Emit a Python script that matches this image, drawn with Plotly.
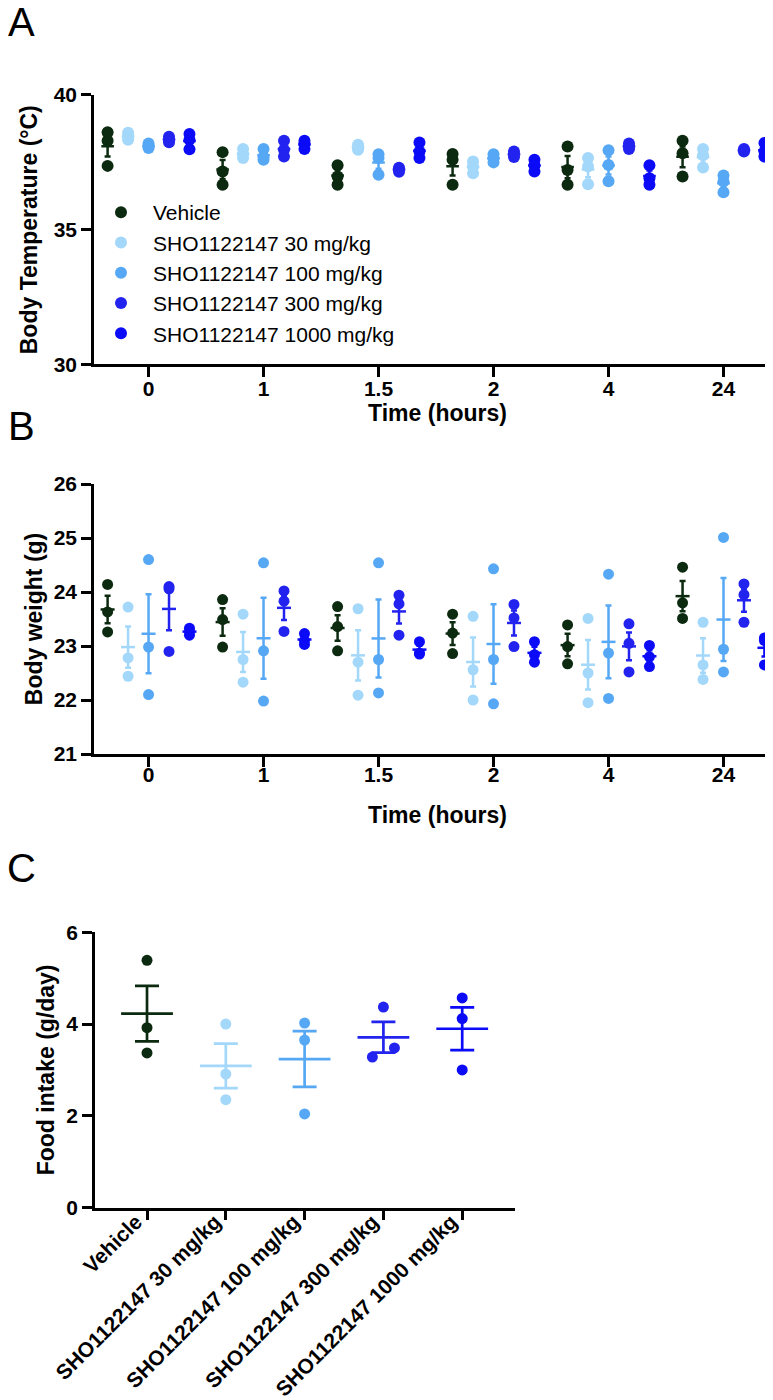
import numpy as np
import plotly.graph_objects as go

time_labels = ["0", "1", "1.5", "2", "4", "24"]
groups = ["Vehicle", "SHO1122147 30 mg/kg", "SHO1122147 100 mg/kg",
          "SHO1122147 300 mg/kg", "SHO1122147 1000 mg/kg"]
colors = ["#0b2a0f", "#a3d8fa", "#56a8f5", "#2323f0", "#0b0bf8"]

# Body temperature (°C): 3 animals per group, one list per time point
temp_vehicle = [[38.62, 38.30, 37.37], [37.88, 37.16, 36.67], [37.39, 36.98, 36.67],
                [37.81, 37.60, 36.67], [38.09, 37.22, 36.67], [38.30, 37.84, 36.98]]
temp_30 = [[38.60, 38.45, 38.34], [38.00, 37.80, 37.66], [38.15, 38.05, 37.97],
           [37.53, 37.35, 37.10], [37.66, 37.35, 36.69], [38.00, 37.76, 37.31]]
temp_100 = [[38.20, 38.10, 38.03], [38.00, 37.70, 37.60], [37.80, 37.66, 37.04],
            [37.80, 37.65, 37.50], [37.95, 37.40, 36.80], [37.01, 36.79, 36.39]]
temp_300 = [[38.45, 38.35, 38.25], [38.30, 37.97, 37.72], [37.30, 37.25, 37.15],
            [37.90, 37.80, 37.70], [38.20, 38.10, 38.00], [38.00, 37.95, 37.90]]
temp_1000 = [[38.55, 38.34, 37.99], [38.30, 38.20, 38.00], [38.24, 37.90, 37.66],
             [37.60, 37.39, 37.16], [37.39, 36.91, 36.67], [38.22, 37.90, 37.72]]

# Body weight (g)
weight_vehicle = [[24.14, 23.63, 23.26], [23.86, 23.49, 22.98], [23.73, 23.36, 22.91],
                  [23.59, 23.24, 22.86], [23.39, 22.99, 22.67], [24.46, 23.80, 23.51]]
weight_30 = [[23.72, 22.78, 22.44], [23.59, 22.75, 22.33], [23.69, 22.70, 22.09],
             [23.55, 22.56, 22.00], [23.51, 22.50, 21.95], [23.44, 22.65, 22.38]]
weight_100 = [[24.60, 22.98, 22.10], [24.54, 22.91, 21.98], [24.54, 22.75, 22.13],
              [24.43, 22.75, 21.93], [24.33, 22.87, 22.03], [25.01, 22.94, 22.52]]
weight_300 = [[24.10, 24.06, 22.90], [24.02, 23.83, 23.27], [23.94, 23.78, 23.20],
              [23.77, 23.52, 22.99], [23.41, 23.05, 22.52], [24.15, 23.95, 23.44]]
weight_1000 = [[23.33, 23.27, 23.20], [23.23, 23.10, 23.03], [23.08, 22.87, 22.85],
               [23.08, 22.84, 22.70], [23.01, 22.80, 22.62], [23.15, 23.10, 22.65]]

# Food intake (g/day)
food_vehicle = [5.39, 3.92, 3.37]
food_30 = [4.00, 2.91, 2.35]
food_100 = [4.02, 3.65, 2.04]
food_300 = [4.37, 3.48, 3.28]
food_1000 = [4.57, 4.12, 3.00]

temp_data = [temp_vehicle, temp_30, temp_100, temp_300, temp_1000]
weight_data = [weight_vehicle, weight_30, weight_100, weight_300, weight_1000]
food_data = [food_vehicle, food_30, food_100, food_300, food_1000]

FONT = "Liberation Sans, Arial, sans-serif"
group_offsets = [-0.356, -0.178, 0.0, 0.178, 0.356]


def sem(vals):
    return float(np.std(vals, ddof=1) / np.sqrt(len(vals)))


def spread(vals, thr, step):
    """Push apart points that would overlap (like a scatter dot plot)."""
    order = np.argsort(vals)
    offs = [0.0] * len(vals)
    for a, b in zip(order[:-1], order[1:]):
        if abs(vals[b] - vals[a]) < thr:
            offs[a] = -step
            offs[b] = step
    return offs


fig = go.Figure()


def add_time_panel(data, xa, ya, msize, mean_size, cap, showlegend):
    for k, name in enumerate(groups):
        xs, ys = [], []
        for i, vals in enumerate(data[k]):
            xs += [i + group_offsets[k]] * len(vals)
            ys += vals
        fig.add_trace(go.Scatter(
            x=xs, y=ys, mode="markers", name=name, legendgroup=name,
            marker=dict(size=msize, color=colors[k]),
            showlegend=showlegend, xaxis=xa, yaxis=ya, hoverinfo="skip"
        ))
        fig.add_trace(go.Scatter(
            x=[i + group_offsets[k] for i in range(len(time_labels))],
            y=[float(np.mean(v)) for v in data[k]],
            mode="markers", showlegend=False, xaxis=xa, yaxis=ya,
            marker=dict(symbol="line-ew", size=mean_size, color=colors[k],
                        line=dict(width=2.5, color=colors[k])),
            error_y=dict(type="data", array=[sem(v) for v in data[k]],
                         color=colors[k], thickness=2.5, width=cap),
            hoverinfo="skip"
        ))


add_time_panel(temp_data, "x", "y", 12, 9, 3, True)
add_time_panel(weight_data, "x2", "y2", 11, 10, 3, False)

# panel C
for k, name in enumerate(groups):
    offs = spread(food_data[k], 0.25, 0.14)
    fig.add_trace(go.Scatter(
        x=[k + o for o in offs], y=food_data[k], mode="markers",
        marker=dict(size=11, color=colors[k]), showlegend=False,
        xaxis="x3", yaxis="y3", hoverinfo="skip"
    ))
    fig.add_trace(go.Scatter(
        x=[k], y=[float(np.mean(food_data[k]))], mode="markers",
        showlegend=False, xaxis="x3", yaxis="y3",
        marker=dict(symbol="line-ew", size=37, color=colors[k],
                    line=dict(width=2.7, color=colors[k])),
        error_y=dict(type="data", array=[sem(food_data[k])], color=colors[k],
                     thickness=2.7, width=12),
        hoverinfo="skip"
    ))

tickfont = dict(family=FONT, size=21, color="black", weight="bold")
titlefont = dict(family=FONT, size=23, color="black", weight="bold")
axis_style = dict(showline=True, linewidth=2.7, linecolor="black", ticks="outside",
                  ticklen=10, tickwidth=2.7, tickcolor="black", showgrid=False,
                  zeroline=False, tickfont=tickfont, automargin=False)

letter_font = dict(family=FONT, size=40, color="black")

fig.update_layout(
    width=773, height=1400,
    margin=dict(l=0, r=0, t=0, b=0),
    paper_bgcolor="white", plot_bgcolor="white",
    font=dict(family=FONT, color="black"),
    # panel letter A sits at the very top edge
    title=dict(text="A", x=0, xref="container", xanchor="left",
               y=1, yref="container", yanchor="top",
               pad=dict(t=0, l=0, b=0, r=0), font=letter_font),
    xaxis=dict(domain=[0.1113, 1.0], range=[-0.474, 5.5], anchor="y",
               tickvals=list(range(len(time_labels))), ticktext=time_labels,
               ticklabelstandoff=-7,
               title=dict(text="Time (hours)", font=titlefont, standoff=0),
               **axis_style),
    yaxis=dict(domain=[0.74536, 0.93786], range=[30, 40], anchor="x",
               tickvals=[30, 35, 40],
               title=dict(text="Body Temperature (°C)", font=titlefont, standoff=10),
               **axis_style),
    xaxis2=dict(domain=[0.1113, 1.0], range=[-0.474, 5.5], anchor="y2",
                tickvals=list(range(len(time_labels))), ticktext=time_labels,
                ticklabelstandoff=-10,
                title=dict(text="Time (hours)", font=titlefont, standoff=22),
                **axis_style),
    yaxis2=dict(domain=[0.46714, 0.66], range=[21, 26], anchor="x2",
                tickvals=[21, 22, 23, 24, 25, 26],
                title=dict(text="Body weight (g)", font=titlefont, standoff=5),
                **axis_style),
    xaxis3=dict(domain=[0.11255, 0.65589], range=[-0.66, 4.67], anchor="y3",
                tickvals=list(range(len(groups))), ticktext=groups, tickangle=-45,
                ticklabelshift=-11, ticklabelstandoff=-19,
                **axis_style),
    yaxis3=dict(domain=[0.14321, 0.33979], range=[0, 6], anchor="x3",
                tickvals=[0, 2, 4, 6],
                title=dict(text="Food intake (g/day)", font=titlefont, standoff=6),
                **axis_style),
    legend=dict(x=81 / 773, y=1 - 184 / 1400, xanchor="left", yanchor="top",
                bgcolor="rgba(0,0,0,0)", itemwidth=54, tracegroupgap=0,
                font=dict(family=FONT, size=21, color="black")),
    annotations=[
        dict(text="B", x=13.5 / 773, y=1 - 418 / 1400, xref="paper", yref="paper",
             xanchor="center", yanchor="middle", showarrow=False, font=letter_font),
        dict(text="C", x=14 / 773, y=1 - 860 / 1400, xref="paper", yref="paper",
             xanchor="center", yanchor="middle", showarrow=False, font=letter_font),
    ],
)

fig.write_html("out.html")
